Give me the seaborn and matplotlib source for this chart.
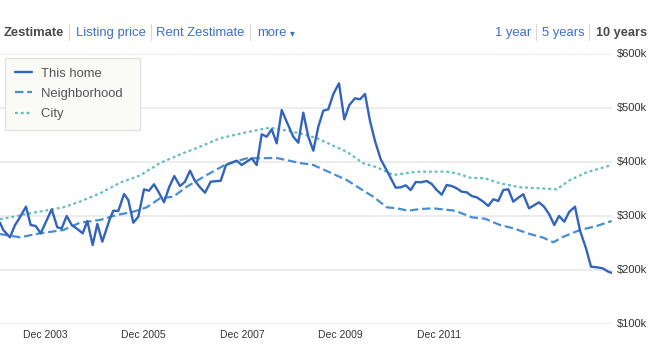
import matplotlib.pyplot as plt
import seaborn as sns
from matplotlib.lines import Line2D

# time axis: years since Jan 2003, values in $k
home_t = [0.0, 0.067, 0.203, 0.305, 0.372, 0.528, 0.623, 0.725, 0.826, 0.934,
          1.050, 1.163, 1.253, 1.354, 1.456, 1.570, 1.679, 1.773, 1.882, 1.976,
          2.077, 2.234, 2.301, 2.402, 2.518, 2.605, 2.707, 2.808, 2.924, 3.025,
          3.127, 3.235, 3.330, 3.438, 3.539, 3.655, 3.756, 3.858, 3.959, 4.061,
          4.162, 4.278, 4.481, 4.589, 4.705, 4.806, 4.908, 5.111, 5.212, 5.314,
          5.415, 5.517, 5.618, 5.720, 5.821, 5.955, 6.057, 6.158, 6.260, 6.362,
          6.463, 6.565, 6.666, 6.768, 6.883, 6.991, 7.093, 7.208, 7.310, 7.411,
          7.513, 7.614, 7.730, 7.884, 8.035, 8.136, 8.238, 8.339, 8.441, 8.548,
          8.664, 8.766, 8.867, 8.969, 9.070, 9.172, 9.273, 9.375, 9.476, 9.578,
          9.679, 9.813, 9.915, 10.016, 10.118, 10.219, 10.321, 10.422, 10.524, 10.625,
          10.741, 10.843, 10.944, 11.046, 11.147, 11.255, 11.350, 11.458, 11.560, 11.675,
          11.777, 11.898, 12.0, 12.116, 12.238, 12.351, 12.453]
home_k = [286.7, 273.1, 259.6, 282.4, 291.7, 316.3, 282.4, 280.6, 267.0, 288.5,
          311.5, 278.1, 276.3, 299.1, 282.4, 275.0, 267.0, 289.8, 245.4, 284.3,
          251.5, 294.8, 308.9, 308.3, 339.8, 328.7, 286.7, 297.8, 348.5, 345.9,
          357.8, 341.1, 324.4, 353.3, 373.1, 354.6, 362.6, 383.0, 363.9, 352.2,
          342.2, 362.6, 364.4, 393.5, 397.8, 401.5, 393.5, 405.9, 393.5, 450.4,
          445.9, 459.6, 433.7, 495.4, 473.7, 445.9, 434.8, 490.4, 445.9, 420.0,
          464.4, 494.1, 496.7, 525.0, 544.8, 478.1, 504.6, 517.0, 515.2, 525.0,
          475.0, 438.0, 404.1, 378.1, 351.5, 352.2, 355.9, 347.2, 362.0, 361.5,
          363.9, 358.3, 347.2, 338.5, 356.5, 354.6, 350.4, 344.1, 343.0, 336.1,
          333.7, 325.6, 317.6, 330.0, 326.9, 347.2, 348.5, 325.6, 333.0, 339.3,
          313.3, 318.9, 324.4, 316.3, 302.8, 282.4, 299.1, 288.5, 307.0, 316.3,
          271.9, 239.3, 205.2, 204.1, 202.2, 195.9, 193.0]

hood_t = [0.0, 0.406, 0.812, 1.285, 1.624, 2.030, 2.370, 2.707, 2.979, 3.249,
          3.519, 3.791, 4.197, 4.603, 5.009, 5.618, 6.091, 6.362, 6.701, 7.040,
          7.411, 7.580, 7.852, 8.055, 8.291, 8.528, 8.798, 9.239, 9.578, 9.848,
          10.152, 10.422, 10.761, 11.032, 11.235, 11.438, 11.777, 12.116, 12.420]
hood_k = [265.7, 259.6, 267.0, 273.1, 286.7, 291.7, 300.9, 307.0, 315.2, 331.9,
          334.8, 353.3, 375.0, 395.4, 405.9, 406.5, 397.2, 393.5, 379.6, 365.7,
          344.1, 334.8, 315.2, 313.3, 308.9, 312.0, 313.3, 308.9, 296.7, 294.1,
          282.4, 276.3, 265.7, 258.9, 250.4, 260.7, 273.1, 280.6, 289.8]

city_t = [0.0, 0.270, 0.676, 1.285, 1.624, 2.030, 2.437, 2.843, 3.249, 3.655,
          4.061, 4.467, 4.975, 5.482, 5.821, 6.091, 6.430, 6.735, 7.040, 7.377,
          7.649, 7.986, 8.461, 9.070, 9.273, 9.543, 9.848, 10.152, 10.558, 10.964,
          11.303, 11.574, 11.913, 12.420]
city_k = [293.0, 297.8, 305.2, 315.2, 325.6, 341.1, 360.7, 374.1, 397.2, 413.0,
          427.4, 443.0, 453.7, 462.6, 457.4, 452.2, 443.5, 430.6, 418.1, 396.7,
          389.3, 375.0, 381.1, 381.1, 378.1, 370.0, 368.9, 359.6, 352.2, 350.4,
          348.5, 365.7, 380.0, 393.5]

tick_years = [2003, 2005, 2007, 2009, 2011]
y_ticks = [100, 200, 300, 400, 500, 600]

sns.set_style("white")
plt.rcParams['font.family'] = ['Liberation Sans', 'DejaVu Sans']

W, H = 652, 356
fig = plt.figure(figsize=(W / 100, H / 100), dpi=100)
ax = fig.add_axes([0, 32.5 / H, 612 / W, 270 / H])

home_c, hood_c, city_c = '#3264be', '#4a8cd2', '#64beb9'
sns.lineplot(x=city_t, y=city_k, ax=ax, color=city_c, lw=1.6, estimator=None,
             linestyle=(0, (1.3, 1.3)))
sns.lineplot(x=hood_t, y=hood_k, ax=ax, color=hood_c, lw=1.6, estimator=None,
             linestyle=(0, (3.8, 1.7)))
sns.lineplot(x=home_t, y=home_k, ax=ax, color=home_c, lw=1.7, estimator=None)

ax.set_xlim(0, 612 / 49.25)
ax.set_ylim(100, 600)
ax.set_yticks(y_ticks)
ax.set_yticklabels([f'${v}k' for v in y_ticks])
ax.yaxis.tick_right()
ax.set_xticks([y - 2003 + 11 / 12 for y in tick_years])
ax.set_xticklabels([f'Dec {y}' for y in tick_years])
ax.tick_params(axis='y', length=0, pad=3.5, labelsize=8, labelcolor='#333333')
ax.tick_params(axis='x', length=0, pad=5, labelsize=7.5, labelcolor='#333333')
ax.grid(axis='y', color='#e9e9e9', lw=1.2)
ax.grid(axis='x', visible=False)
ax.set_xlabel('')
ax.set_ylabel('')
for s in ax.spines.values():
    s.set_visible(False)

handles = [Line2D([], [], color=home_c, lw=1.7),
           Line2D([], [], color=hood_c, lw=1.6, linestyle=(0, (3.8, 1.7))),
           Line2D([], [], color=city_c, lw=1.6, linestyle=(0, (1.3, 1.3)))]
leg = ax.legend(handles, ['This home  ', 'Neighborhood  ', 'City  '], loc='upper left',
                bbox_to_anchor=(5 / 612, (323.5 - 58) / 270), borderaxespad=0,
                fontsize=9.4, handlelength=1.3, handletextpad=0.7, labelspacing=0.61,
                borderpad=0.75, fancybox=False, framealpha=1,
                facecolor='#fafaf6', edgecolor='#e3e3e3')
leg.get_frame().set_linewidth(1)
for t in leg.get_texts():
    t.set_color('#555555')

# header links
ty = 1 - 33 / H
link_c = '#3f6fc6'
fig.text(4 / W, ty, 'Zestimate', fontsize=9.4, fontweight='bold', color='#4a4a4a', va='center')
fig.text(75.5 / W, ty, 'Listing price', fontsize=9.4, color=link_c, va='center')
fig.text(156.5 / W, ty, 'Rent Zestimate', fontsize=9.4, color=link_c, va='center')
fig.text(257.5 / W, ty, 'more', fontsize=9.4, color=link_c, va='center')
fig.text(289.5 / W, ty, '\u25be', fontsize=7, color=link_c, va='center', family='DejaVu Sans')
fig.text(495 / W, ty, '1 year', fontsize=9.4, color=link_c, va='center')
fig.text(541.5 / W, ty, '5 years', fontsize=9.4, color=link_c, va='center')
fig.text(595.5 / W, ty, '10 years', fontsize=9.2, fontweight='bold', color='#4a4a4a', va='center')
for sx in [69.3, 150.7, 250, 535.7, 589.3]:
    fig.add_artist(Line2D([sx / W, sx / W], [1 - 24 / H, 1 - 40 / H], color='#d8d8d8', lw=0.8))

fig.savefig('out.png', dpi=100)
